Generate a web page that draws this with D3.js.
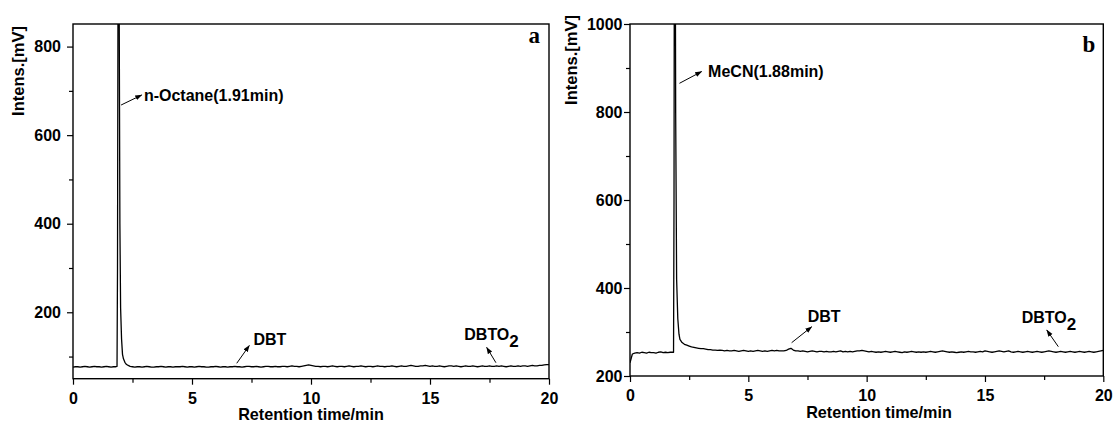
<!DOCTYPE html>
<html><head><meta charset="utf-8">
<script src="https://cdn.jsdelivr.net/npm/d3@7"></script>
<style>
body{margin:0;background:#fff}
svg{display:block}
</style>
</head><body>
<svg id="chart" width="1115" height="421"></svg>
<script>
// ---------------- data ----------------
const xMajorTicks = [0, 5, 10, 15, 20];
const xMinorTicks = [2.5, 7.5, 12.5, 17.5];
const yMajorTicksA = [200, 400, 600, 800];
const yMinorTicksA = [100, 300, 500, 700];
const yMajorTicksB = [200, 400, 600, 800, 1000];
const yMinorTicksB = [300, 500, 700, 900];
const xDomain = [0, 20];
const yDomainA = [50, 851];
const yDomainB = [200, 1000];
const sampleStep = 0.1; // detector sampling interval (min) of the baseline readings

// Panel a: n-Octane phase
const preValuesA = [76,77,77,76,77,78,77,76,77,78,77,77,76,77,78,77,76,77,77]; // t = 0.0 .. 1.8
const peakTimesA  = [1.85,1.87,1.89,1.91,1.94,1.97,2.0,2.04,2.08,2.12,2.18,2.25,2.32,2.4];
const peakValuesA = [78,300,900,1400,900,400,210,140,105,95,87,82,80,78];
const postStartA = 2.5;
const postValuesA = [
 77,76,77,77,76,77,78,77,76,76,77,77,78,77,76,77,77,76,77,77,
 77,78,77,76,77,77,76,77,78,77,77,76,76,77,77,78,77,76,77,77,
 76,77,77,78,77,77,76,77,78,78,77,77,78,77,76,77,78,78,77,77,
 78,77,77,78,78,77,78,79,78,78,77,78,79,80,81,80,79,78,78,77,
 78,78,77,78,79,78,77,78,78,77,78,79,78,77,78,78,79,78,77,78,
 78,77,78,79,78,78,77,78,78,79,78,77,78,79,78,78,79,80,79,78,
 78,79,79,80,79,78,79,78,78,79,78,77,78,79,79,78,79,78,77,78,
 79,78,78,79,78,77,78,79,78,78,79,78,78,79,78,79,78,77,78,79,
 78,78,79,78,79,79,78,79,80,79,79,80,80,81,82,82];

// Panel b: MeCN phase
const preValuesB = [230,250,252,253,252,254,253,252,254,253,253,252,254,255,253,254,253,254,254];
const peakTimesB  = [1.84,1.86,1.88,1.90,1.93,1.97,2.02,2.07,2.11,2.2,2.3,2.4];
const peakValuesB = [254,600,1500,1500,800,420,330,295,283,276,272,270];
const postStartB = 2.5;
const postValuesB = [
 268,266,265,264,263,262,262,261,260,260,259,259,258,259,258,257,258,257,257,258,
 257,256,257,258,257,256,257,256,257,258,257,256,257,256,257,258,257,258,257,257,
 257,258,261,263,259,257,257,256,257,256,255,256,257,256,255,256,256,255,256,255,
 255,256,255,256,257,255,256,255,256,255,256,257,257,258,257,256,255,256,255,254,
 255,254,255,256,255,254,255,256,255,254,253,255,254,255,256,255,254,255,254,255,
 254,255,256,255,254,255,256,257,256,255,254,255,254,253,254,255,254,255,256,255,
 255,254,255,256,255,257,256,255,254,255,256,257,256,255,256,257,255,254,255,256,
 255,254,255,256,255,254,255,256,255,254,255,256,257,256,255,254,255,256,255,254,
 255,256,255,254,255,256,255,254,255,256,255,254,255,256,257,258];

// annotations: [label, subscript, textTime, textValue, arrowFromTime, arrowFromValue, arrowToTime, arrowToValue]
const annotationsA = [
 ["n-Octane(1.91min)", "", 2.98, 676, 2.02, 668, 2.89, 690.7],
 ["DBT", "", 7.58, 126, 6.88, 84.8, 7.41, 125],
 ["DBTO", "2", 16.44, 137.4, 17.77, 86.1, 17.38, 120.9]
];
const annotationsB = [
 ["MeCN(1.88min)", "", 3.30, 879.5, 2.09, 865.2, 3.03, 892],
 ["DBT", "", 7.51, 322, 6.83, 275.7, 7.68, 312],
 ["DBTO", "2", 16.55, 319.8, 18.10, 266.6, 17.61, 304.5]
];
const panelLetters = ["a", "b"];
const xTitle = "Retention time/min";
const yTitle = "Intens.[mV]";

// ---------------- build ----------------
const SANS = "'Liberation Sans',Arial,Helvetica,sans-serif";
const SERIF = "'Liberation Serif','Times New Roman',serif";

function buildSeries(pre, pkT, pkV, postStart, post){
  const pts = [];
  pre.forEach((v,i)=>pts.push([i*sampleStep, v]));
  pkT.forEach((t,i)=>pts.push([t, pkV[i]]));
  post.forEach((v,i)=>pts.push([postStart + i*sampleStep, v]));
  return pts;
}

const svg = d3.select("#chart");
const defs = svg.append("defs");
defs.append("marker").attr("id","arr").attr("markerUnits","userSpaceOnUse")
  .attr("markerWidth",8).attr("markerHeight",6).attr("refX",6.5).attr("refY",2.5)
  .attr("orient","auto")
  .append("path").attr("d","M0,0 L7,2.5 L0,5 Z").attr("fill","#000");

const panels = [
  {id:"a", left:73, right:549, top:24, bottom:378.7, yDomain:yDomainA, yMajor:yMajorTicksA, yMinor:yMinorTicksA,
   series: buildSeries(preValuesA, peakTimesA, peakValuesA, postStartA, postValuesA),
   ann: annotationsA, letter: panelLetters[0], letterPos:[534.3, 43.3], yPad:6,
   yTitlePos:[24, 71], xTitlePos:[311, 419.5]},
  {id:"b", left:630, right:1103.3, top:24, bottom:376, yDomain:yDomainB, yMajor:yMajorTicksB, yMinor:yMinorTicksB,
   series: buildSeries(preValuesB, peakTimesB, peakValuesB, postStartB, postValuesB),
   ann: annotationsB, letter: panelLetters[1], letterPos:[1089, 52], yPad:1.5,
   yTitlePos:[577.3, 60], xTitlePos:[879, 417.5]}
];

function styleText(sel, size, family){
  return sel.style("font-family", family || SANS).style("font-weight","bold")
    .style("font-size", size + "px").style("fill","#000");
}

panels.forEach(p=>{
  const x = d3.scaleLinear().domain(xDomain).range([p.left, p.right]);
  const y = d3.scaleLinear().domain(p.yDomain).range([p.bottom, p.top]);
  const g = svg.append("g");

  g.append("clipPath").attr("id","clip"+p.id).append("rect")
    .attr("x",p.left).attr("y",p.top).attr("width",p.right-p.left).attr("height",p.bottom-p.top);

  // minor ticks
  g.append("g").attr("transform",`translate(0,${p.bottom})`)
    .call(d3.axisBottom(x).tickValues(xMinorTicks).tickSize(4).tickFormat(""))
    .call(s=>s.select(".domain").remove());
  g.append("g").attr("transform",`translate(${p.left},0)`)
    .call(d3.axisLeft(y).tickValues(p.yMinor).tickSize(4).tickFormat(""))
    .call(s=>s.select(".domain").remove());
  // major ticks
  g.append("g").attr("transform",`translate(0,${p.bottom})`)
    .call(d3.axisBottom(x).tickValues(xMajorTicks).tickSize(6).tickPadding(8).tickFormat(d3.format("d")))
    .call(s=>s.select(".domain").remove());
  g.append("g").attr("transform",`translate(${p.left},0)`)
    .call(d3.axisLeft(y).tickValues(p.yMajor).tickSize(6).tickPadding(p.yPad).tickFormat(d3.format("d")))
    .call(s=>s.select(".domain").remove());
  g.selectAll(".tick line").attr("stroke","#000").attr("stroke-width",1.2);
  styleText(g.selectAll(".tick text"), 16);

  // data line
  g.append("path").datum(p.series)
    .attr("clip-path",`url(#clip${p.id})`)
    .attr("fill","none").attr("stroke","#000").attr("stroke-width",1.3).attr("stroke-linejoin","round")
    .attr("d", d3.line().x(d=>x(d[0])).y(d=>y(d[1])));

  // frame
  g.append("rect").attr("x",p.left).attr("y",p.top).attr("width",p.right-p.left).attr("height",p.bottom-p.top)
    .attr("fill","none").attr("stroke","#000").attr("stroke-width",1.4);

  // axis titles
  styleText(g.append("text").attr("x",p.xTitlePos[0]).attr("y",p.xTitlePos[1]).attr("text-anchor","middle"), 16.2)
    .text(xTitle);
  styleText(g.append("text").attr("transform",`translate(${p.yTitlePos[0]},${p.yTitlePos[1]}) rotate(-90)`)
    .attr("text-anchor","middle"), 16.5).text(yTitle);

  // panel letter (serif)
  styleText(g.append("text").attr("x",p.letterPos[0]).attr("y",p.letterPos[1]).attr("text-anchor","middle"), 23, SERIF)
    .text(p.letter);

  // annotations
  p.ann.forEach(a=>{
    const t = styleText(g.append("text").attr("x",x(a[2])).attr("y",y(a[3])), 16);
    t.append("tspan").text(a[0]);
    if(a[1]) t.append("tspan").attr("dy",7).style("font-size","17px").text(a[1]);
    g.append("line").attr("x1",x(a[4])).attr("y1",y(a[5])).attr("x2",x(a[6])).attr("y2",y(a[7]))
      .attr("stroke","#000").attr("stroke-width",1).attr("marker-end","url(#arr)");
  });
});
</script>
</body></html>
